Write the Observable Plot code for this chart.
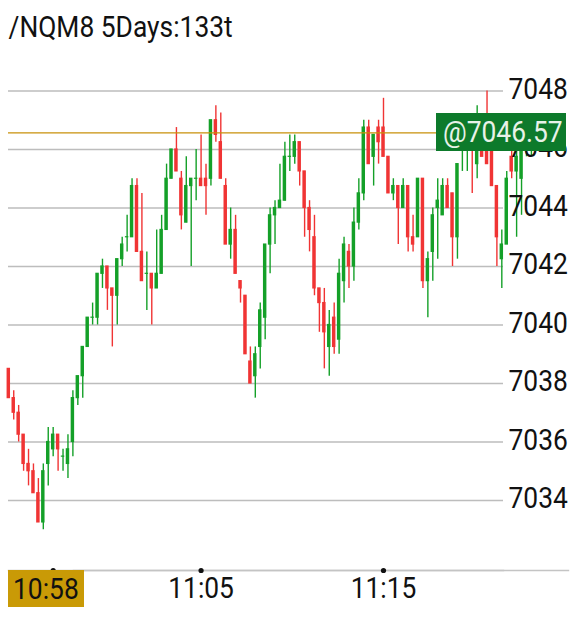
<!DOCTYPE html>
<html><head><meta charset="utf-8">
<script src="https://cdn.jsdelivr.net/npm/d3@7"></script>
<script src="https://cdn.jsdelivr.net/npm/@observablehq/plot@0.6"></script>
<style>
html,body{margin:0;padding:0;background:#fff;}
#wrap{position:relative;width:576px;height:625px;overflow:hidden;font-family:Roboto,sans-serif;}
.box{position:absolute;display:flex;align-items:center;white-space:nowrap;}
.box span{display:inline-block;transform:scaleX(0.91);transform-origin:left center;font-size:29px;}
</style>
</head><body>
<div id="wrap"></div>
<script>
const title = "/NQM8 5Days:133t";
const opens  = [7038.5,7037.5,7037.0,7036.25,7035.25,7035.0,7034.25,7033.25,7035.25,7035.75,7036.25,7035.5,7035.25,7036.0,7037.5,7038.25,7039.25,7040.25,7040.25,7041.75,7042.0,7041.25,7041.0,7042.25,7043.0,7043.0,7044.75,7042.5,7041.75,7041.75,7041.25,7041.75,7043.25,7045.0,7046.0,7045.0,7043.5,7044.75,7045.0,7045.0,7045.0,7045.0,7047.0,7046.25,7044.75,7042.75,7043.25,7041.5,7041.0,7038.75,7038.25,7039.25,7040.25,7042.75,7043.75,7044.0,7044.25,7045.75,7045.75,7046.25,7045.25,7044.0,7043.0,7041.25,7040.75,7039.25,7040.25,7039.5,7041.5,7042.5,7042.0,7043.5,7044.5,7046.75,7045.75,7046.75,7046.75,7045.75,7044.5,7044.75,7044.0,7044.75,7043.0,7043.0,7045.0,7041.5,7042.5,7044.0,7043.75,7044.75,7044.5,7043.0,7046.0,7046.0,7046.5,7045.5,7046.5,7046.5,7046.5,7044.75,7042.25,7042.75,7045.75,7045.25,7045.0,7046.0,7046.25];
const highs  = [7038.5,7037.75,7037.25,7036.25,7035.75,7035.25,7034.75,7035.25,7036.5,7036.5,7036.25,7035.75,7036.25,7037.75,7038.25,7039.25,7040.25,7040.75,7041.75,7042.25,7042.0,7041.25,7042.25,7043.0,7043.75,7045.0,7045.0,7044.5,7042.5,7041.75,7043.25,7043.75,7045.5,7046.0,7046.75,7045.25,7045.75,7045.0,7046.0,7046.5,7045.5,7047.0,7047.5,7047.25,7045.0,7044.0,7043.75,7041.5,7041.0,7039.25,7039.25,7040.75,7042.75,7044.0,7044.25,7045.5,7046.25,7046.5,7046.5,7046.25,7045.25,7044.25,7043.75,7041.25,7041.25,7040.5,7040.75,7042.25,7043.0,7042.75,7044.0,7045.0,7047.0,7047.0,7046.5,7047.0,7047.75,7045.75,7045.0,7044.75,7045.0,7044.75,7043.75,7045.0,7045.0,7042.5,7044.0,7045.0,7045.0,7045.0,7044.5,7045.5,7046.5,7046.75,7046.5,7047.5,7046.5,7048.0,7046.5,7044.75,7043.25,7045.25,7046.0,7046.0,7046.0,7046.5,7046.5];
const lows   = [7037.5,7036.75,7036.0,7035.0,7034.5,7034.25,7033.25,7033.0,7034.5,7035.5,7035.0,7035.0,7034.75,7035.5,7037.25,7037.5,7039.25,7040.0,7040.0,7041.25,7040.5,7039.25,7040.0,7042.0,7042.5,7043.0,7042.5,7041.5,7040.5,7040.0,7041.25,7041.75,7043.25,7045.0,7045.25,7043.25,7043.5,7042.0,7044.25,7044.75,7043.75,7044.75,7046.25,7045.0,7042.75,7042.25,7041.75,7040.75,7039.0,7038.0,7037.5,7038.5,7039.5,7041.75,7042.75,7044.0,7044.25,7045.25,7045.5,7044.75,7043.0,7042.5,7041.0,7039.75,7038.5,7038.25,7039.0,7039.0,7040.75,7041.25,7041.5,7043.25,7044.25,7045.5,7044.75,7045.5,7045.75,7044.5,7044.25,7042.75,7044.0,7042.5,7042.5,7043.0,7041.25,7040.25,7041.5,7042.25,7043.75,7044.0,7042.0,7042.25,7045.25,7045.25,7044.5,7045.0,7045.75,7045.5,7044.75,7042.0,7041.25,7042.75,7045.0,7043.0,7043.75,7045.75,7045.75];
const closes = [7037.5,7037.0,7036.25,7035.25,7035.0,7034.25,7033.25,7035.0,7036.0,7036.25,7035.75,7035.5,7035.75,7037.5,7038.25,7039.25,7040.25,7040.25,7041.75,7042.0,7041.25,7041.0,7042.25,7042.75,7043.0,7044.75,7042.5,7041.5,7041.75,7041.25,7041.75,7043.25,7045.0,7046.0,7045.25,7043.75,7044.75,7045.0,7045.0,7044.75,7044.75,7047.0,7046.5,7045.0,7042.75,7043.25,7041.75,7041.25,7039.0,7038.0,7039.0,7040.5,7042.75,7043.75,7044.0,7044.25,7045.75,7045.75,7046.25,7045.25,7044.0,7043.25,7041.25,7040.75,7039.75,7040.0,7039.25,7041.75,7042.75,7042.0,7043.5,7044.5,7046.75,7045.5,7046.5,7046.25,7045.75,7044.5,7044.75,7044.0,7044.75,7043.0,7042.75,7045.0,7041.5,7042.25,7043.75,7044.25,7044.75,7044.0,7043.0,7045.5,7046.5,7046.5,7046.0,7046.5,7045.75,7045.5,7044.75,7043.0,7042.75,7045.0,7045.25,7045.75,7046.0,7046.25,7046.5];
const yTicks = [7034,7036,7038,7040,7042,7044,7046,7048];
const xTickIndex = [9,39,76];
const xTickLabels = ["","11:05","11:15"];
const firstTime = "10:58";
const lastPrice = 7046.57;

const GREEN = "#14a028", RED = "#f03434";
const SX = 0.91;
const data = opens.map((o,i)=>({i, open:o, high:highs[i], low:lows[i], close:closes[i]}));
const col = d => d.close >= d.open ? GREEN : RED;

const plot = Plot.plot({
  width: 576, height: 625,
  marginLeft: 8, marginRight: 73, marginTop: 0, marginBottom: 55,
  style: {fontFamily: "Roboto, sans-serif", fontSize: "29px", background: "#fff", color: "#111"},
  x: {domain: [0, 106], range: [8.3, 530.9], axis: null},
  y: {domain: [7034, 7048], range: [500, 90.5], axis: null},
  marks: [
    Plot.ruleY(yTicks, {stroke: "#bdbdbd", strokeWidth: 1.4}),
    Plot.ruleX(data, {x: "i", y1: "low", y2: "high", stroke: col, strokeWidth: 1.4}),
    Plot.rect(data, {x1: d => d.i - 0.35, x2: d => d.i + 0.35, y1: "open", y2: "close", fill: col, insetTop: -0.6, insetBottom: -0.6}),
    Plot.ruleY([lastPrice], {stroke: "#c8900a", strokeWidth: 1.4}),
    Plot.text(yTicks, {y: d => d, text: d => String(d), frameAnchor: "right", textAnchor: "start", dx: 5, dy: -1.5, fill: "#111"}),
    Plot.frame({anchor: "bottom", stroke: "#c4c4c4", strokeWidth: 1.4}),
    Plot.frame({anchor: "bottom", stroke: "#c4c4c4", strokeWidth: 1.4, dx: 65}),
    Plot.dot(xTickIndex, {x: d => d, frameAnchor: "bottom", r: 2.6, fill: "#111", stroke: "none"}),
    Plot.text(xTickIndex, {x: d => d, text: (d, i) => xTickLabels[i], frameAnchor: "bottom", dy: 27, fill: "#111"}),
    Plot.text([title], {frameAnchor: "top-left", text: d => d, textAnchor: "start", lineAnchor: "bottom", dy: 36, fill: "#111"})
  ]
});

// condensed look for all texts (horizontal scale only)
plot.querySelectorAll("text").forEach(t => {
  let tr = t.getAttribute("transform") || "";
  const x = t.getAttribute("x");
  if (x !== null && !isNaN(+x)) { tr += ` translate(${x},0)`; t.removeAttribute("x"); }
  t.setAttribute("transform", tr + ` scale(${SX},1)`);
});

const wrap = document.getElementById("wrap");
wrap.appendChild(plot);

const ys = plot.scale("y");
const py = ys.apply(lastPrice);
const pbox = document.createElement("div");
pbox.className = "box";
Object.assign(pbox.style, {left: "436px", top: (py - 19) + "px", width: "130px", height: "38px", background: "#0d7a2b", color: "#e8f2e8", paddingLeft: "7px", boxSizing: "border-box"});
pbox.innerHTML = `<span>@${lastPrice.toFixed(2)}</span>`;
wrap.appendChild(pbox);

const tbox = document.createElement("div");
tbox.className = "box";
Object.assign(tbox.style, {left: "8px", top: "570px", width: "76px", height: "37px", background: "#c99a06", color: "#111", paddingLeft: "5px", boxSizing: "border-box"});
tbox.innerHTML = `<span>${firstTime}</span>`;
wrap.appendChild(tbox);
</script>
</body></html>
